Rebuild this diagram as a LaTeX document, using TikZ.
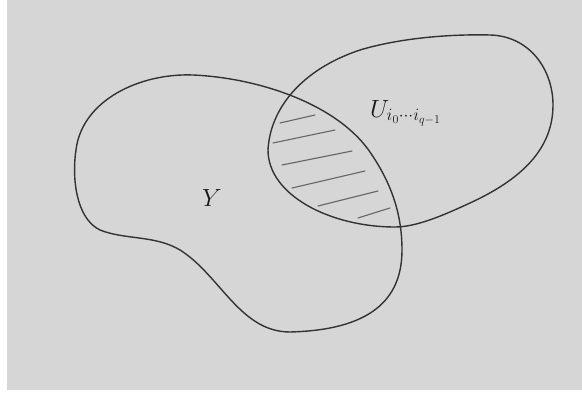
\documentclass[tikz,border=0pt]{standalone}
\begin{document}
\begin{tikzpicture}[x=1pt,y=-1pt,
  outline/.style={draw=black!80, line width=1.4pt},
  hatch/.style={draw=black!60, line width=1.1pt, line cap=round},
  lbl/.style={text=black!90, inner sep=0pt}]
\useasboundingbox (0,0) rectangle (582,395);
\fill[white] (0,0) rectangle (582,395);
\fill[black!16] (7,0) rectangle (582,390);
% Y blob
\draw[outline] (193,75)
  .. controls (260,78) and (340,105) .. (372,155)
  .. controls (392,185) and (402,215) .. (402,250)
  .. controls (402,300) and (370,330) .. (290,332)
  .. controls (240,332) and (220,275) .. (180,250)
  .. controls (155,235) and (125,240) .. (100,230)
  .. controls (75,218) and (72,175) .. (76,150)
  .. controls (82,100) and (140,73) .. (193,75) -- cycle;
% U ellipse
\draw[outline] (268,150)
  .. controls (270,110) and (300,70) .. (360,50)
  .. controls (400,38) and (450,34) .. (490,35)
  .. controls (530,36) and (553,70) .. (553,105)
  .. controls (553,150) and (520,180) .. (470,203)
  .. controls (440,217) and (415,227) .. (395,227)
  .. controls (330,227) and (268,195) .. (268,150) -- cycle;
% hatching
\draw[hatch] (280,123) -- (315,115);
\draw[hatch] (273,143) -- (335,130);
\draw[hatch] (282,165) -- (352,151);
\draw[hatch] (292,188) -- (365,171);
\draw[hatch] (318,206) -- (378,191);
\draw[hatch] (358,218) -- (390,208);
% labels
\node[lbl, font=\fontsize{30}{32}\selectfont] (Y) at (212,198) {$Y$};
\node[lbl, font=\fontsize{24}{26}\selectfont, anchor=west] (U) at (370,113) {$U_{i_0\cdots i_{q-1}}$};
\end{tikzpicture}
\end{document}
